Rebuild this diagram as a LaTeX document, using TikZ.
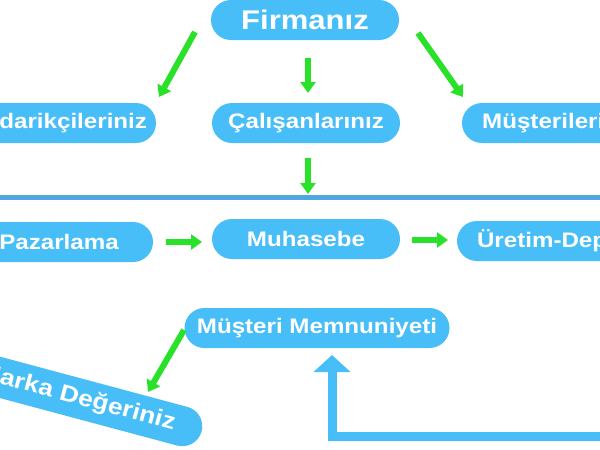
\documentclass[tikz,border=0pt]{standalone}
\usepackage{fontspec}
\setmainfont{Liberation Sans}[FakeStretch=1.15]
\usetikzlibrary{arrows.meta}
\definecolor{boxblue}{RGB}{72,190,248}
\definecolor{linblue}{RGB}{78,168,222}
\definecolor{arrgreen}{RGB}{40,225,40}
\begin{document}
\begin{tikzpicture}[x=1pt,y=-1pt,
  pill/.style={fill=boxblue, rounded corners=20pt, minimum height=40pt, minimum width=188pt,
    inner sep=0pt, text=white, font=\bfseries\fontsize{21}{24}\selectfont},
  garrow/.style={draw=arrgreen, line width=6pt, -{Triangle[width=15pt,length=11pt]}},
  barrow/.style={draw=boxblue, line width=9pt, -{Triangle[width=36pt,length=17pt]}}]
\useasboundingbox (0,0) rectangle (600,450);
\clip (0,0) rectangle (600,450);
% nodes
\node[pill, font=\bfseries\fontsize{27}{30}\selectfont] (firm) at (305,20) {Firmanız};
\node[pill, minimum width=192pt] (ted) at (60,123) {Tedarikçileriniz};
\node[pill] (cal) at (306,123) {Çalışanlarınız};
\node[pill, minimum width=196pt] (mus) at (560,123) {Müşterileriniz};
\node[pill] (paz) at (59,242) {Pazarlama};
\node[pill] (muh) at (306,239) {Muhasebe};
\node[pill, minimum width=240pt] (ure) at (577,241) {Üretim-Depolama};
\node[pill, minimum width=265pt] (mm) at (317,328) {Müşteri Memnuniyeti};
\node[pill, minimum width=258pt, rotate=-15, font=\bfseries\fontsize{23}{26}\selectfont] (mk) at (77,398) {Marka Değeriniz};
% separator line
\draw[linblue, line width=5pt] (0,197) -- (600,197);
% arrow end points
\coordinate (a1s) at (195,32);  \coordinate (a1e) at (159,97);
\coordinate (a2s) at (308,58);  \coordinate (a2e) at (308,93);
\coordinate (a3s) at (418,33);  \coordinate (a3e) at (463,97);
\coordinate (a4s) at (308,158); \coordinate (a4e) at (308,194);
\coordinate (a5s) at (166,242); \coordinate (a5e) at (202,242);
\coordinate (a6s) at (412,240); \coordinate (a6e) at (448,240);
\coordinate (a7s) at (184,330); \coordinate (a7e) at (148,392);
\coordinate (b1s) at (612,436); \coordinate (b1e) at (332,355);
% green arrows
\draw[garrow] (a1s) -- (a1e);
\draw[garrow] (a2s) -- (a2e);
\draw[garrow] (a3s) -- (a3e);
\draw[garrow] (a4s) -- (a4e);
\draw[garrow] (a5s) -- (a5e);
\draw[garrow] (a6s) -- (a6e);
\draw[garrow] (a7s) -- (a7e);
% blue return arrow
\draw[barrow] (b1s) -| (b1e);
\end{tikzpicture}
\end{document}
